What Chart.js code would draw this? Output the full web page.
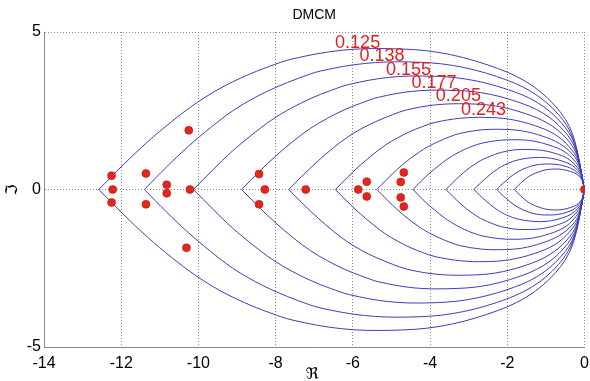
<!DOCTYPE html>
<html>
<head>
<meta charset="utf-8">
<script src="https://cdn.jsdelivr.net/npm/chart.js@4.4.0/dist/chart.umd.min.js"></script>
<style>
  html, body { margin: 0; padding: 0; background: #fff; }
  #wrap { width: 590px; height: 381px; }
</style>
</head>
<body>
<div id="wrap"><canvas id="dmcm-chart" width="590" height="381"></canvas></div>
<script>
const contourRe = [
    [-12.58, -11.95, -11.32, -10.69, -10.06, -9.44, -8.81, -8.18, -7.55, -6.29, -5.03, -3.77, -2.52, -1.51, -0.75, -0.31, 0],
    [-11.40, -10.83, -10.26, -9.69, -9.12, -8.55, -7.98, -7.41, -6.84, -5.70, -4.56, -3.42, -2.28, -1.37, -0.68, -0.29, 0],
    [-10.13, -9.62, -9.12, -8.61, -8.10, -7.60, -7.09, -6.58, -6.08, -5.07, -4.05, -3.04, -2.03, -1.22, -0.61, -0.25, 0],
    [-8.88, -8.44, -7.99, -7.55, -7.10, -6.66, -6.22, -5.77, -5.33, -4.44, -3.55, -2.66, -1.78, -1.07, -0.53, -0.22, 0],
    [-7.66, -7.28, -6.89, -6.51, -6.13, -5.75, -5.36, -4.98, -4.60, -3.83, -3.06, -2.30, -1.53, -0.92, -0.46, -0.19, 0],
    [-6.45, -6.13, -5.81, -5.48, -5.16, -4.84, -4.52, -4.19, -3.87, -3.23, -2.58, -1.94, -1.29, -0.77, -0.39, -0.16, 0],
    [-5.38, -5.11, -4.84, -4.57, -4.30, -4.04, -3.77, -3.50, -3.23, -2.69, -2.15, -1.61, -1.08, -0.65, -0.32, -0.13, 0],
    [-4.44, -4.22, -4.00, -3.77, -3.55, -3.33, -3.11, -2.89, -2.66, -2.22, -1.78, -1.33, -0.89, -0.53, -0.27, -0.11, 0],
    [-3.59, -3.41, -3.23, -3.05, -2.87, -2.69, -2.51, -2.33, -2.15, -1.80, -1.44, -1.08, -0.72, -0.43, -0.22, -0.09, 0],
    [-2.86, -2.72, -2.57, -2.43, -2.29, -2.15, -2.00, -1.86, -1.72, -1.43, -1.14, -0.86, -0.57, -0.34, -0.17, -0.07, 0],
    [-2.27, -2.16, -2.04, -1.93, -1.82, -1.70, -1.59, -1.48, -1.36, -1.14, -0.91, -0.68, -0.45, -0.27, -0.14, -0.06, 0],
    [-1.82, -1.73, -1.64, -1.55, -1.46, -1.37, -1.27, -1.18, -1.09, -0.91, -0.73, -0.55, -0.36, -0.22, -0.11, -0.05, 0]
];
const contourIm = [
    [0, 0.78, 1.51, 2.16, 2.74, 3.21, 3.59, 3.90, 4.15, 4.42, 4.47, 4.35, 3.96, 3.42, 2.64, 1.76, 0],
    [0, 0.71, 1.37, 1.96, 2.49, 2.91, 3.25, 3.53, 3.76, 4.00, 4.05, 3.94, 3.59, 3.10, 2.39, 1.60, 0],
    [0, 0.63, 1.22, 1.74, 2.21, 2.58, 2.89, 3.14, 3.34, 3.56, 3.60, 3.50, 3.19, 2.76, 2.13, 1.42, 0],
    [0, 0.55, 1.07, 1.53, 1.94, 2.26, 2.53, 2.75, 2.93, 3.12, 3.15, 3.07, 2.80, 2.42, 1.86, 1.24, 0],
    [0, 0.47, 0.92, 1.32, 1.67, 1.95, 2.18, 2.37, 2.53, 2.69, 2.72, 2.65, 2.41, 2.08, 1.61, 1.07, 0],
    [0, 0.40, 0.77, 1.11, 1.41, 1.64, 1.84, 2.00, 2.13, 2.26, 2.29, 2.23, 2.03, 1.75, 1.35, 0.90, 0],
    [0, 0.33, 0.65, 0.93, 1.17, 1.37, 1.53, 1.67, 1.78, 1.89, 1.91, 1.86, 1.69, 1.46, 1.13, 0.75, 0],
    [0, 0.28, 0.53, 0.76, 0.97, 1.13, 1.27, 1.38, 1.47, 1.56, 1.58, 1.54, 1.40, 1.21, 0.93, 0.62, 0],
    [0, 0.22, 0.43, 0.62, 0.78, 0.92, 1.02, 1.11, 1.18, 1.26, 1.27, 1.24, 1.13, 0.98, 0.75, 0.50, 0],
    [0, 0.18, 0.34, 0.49, 0.62, 0.73, 0.82, 0.89, 0.94, 1.00, 1.02, 0.99, 0.90, 0.78, 0.60, 0.40, 0],
    [0, 0.14, 0.27, 0.39, 0.49, 0.58, 0.65, 0.70, 0.75, 0.80, 0.81, 0.79, 0.72, 0.62, 0.48, 0.32, 0],
    [0, 0.11, 0.22, 0.31, 0.40, 0.46, 0.52, 0.56, 0.60, 0.64, 0.65, 0.63, 0.57, 0.50, 0.38, 0.25, 0]
];

// poles (red dots)
const poleRe = [-12.25, -12.22, -12.25, -11.36, -11.36, -10.82, -10.82, -10.22, -10.25, -10.31,
                -8.43, -8.28, -8.43, -7.22, -5.86, -5.64, -5.64, -4.68, -4.76, -4.76, -4.68, 0];
const poleIm = [0.44, 0, -0.41, 0.51, -0.47, 0.15, -0.12, 0, 1.88, -1.85,
                0.49, 0, -0.47, 0, 0, 0.25, -0.22, 0.54, 0.24, -0.25, -0.54, 0];

// damping labels and where they sit (data coords, text baseline)
const dampingLabels = ['0.125', '0.138', '0.155', '0.177', '0.205', '0.243'];
const labelRe = [-6.46, -5.83, -5.14, -4.48, -3.85, -3.20];
const labelIm = [4.50, 4.07, 3.65, 3.23, 2.80, 2.38];

const xTicks = [-14, -12, -10, -8, -6, -4, -2, 0];
const yTicks = [-5, 0, 5];

const lineColor = 'rgb(62, 62, 184)';
const datasets = [];

datasets.push({
    label: 'poles',
    data: poleRe.map((re, i) => ({ x: re, y: poleIm[i] })),
    showLine: false,
    pointRadius: 4,
    pointBackgroundColor: '#e2261b',
    pointBorderColor: '#b81a12',
    pointBorderWidth: 0.6
});

contourRe.forEach((row, k) => {
    const upper = row.map((re, i) => ({ x: re, y: contourIm[k][i] }));
    const lower = row.map((re, i) => ({ x: re, y: -contourIm[k][i] }));
    [upper, lower].forEach(pts => {
        datasets.push({
            data: pts,
            showLine: true,
            borderColor: lineColor,
            borderWidth: 1,
            pointRadius: 0,
            tension: 0.35,
            fill: false
        });
    });
});

const textPlugin = {
    id: 'dmcmText',
    afterDatasetsDraw(chart) {
        const { ctx, chartArea, scales } = chart;
        ctx.save();
        ctx.fillStyle = '#e81e1e';
        ctx.font = '18px "Liberation Sans", Arial, sans-serif';
        ctx.textAlign = 'left';
        ctx.textBaseline = 'alphabetic';
        dampingLabels.forEach((txt, i) => {
            ctx.fillText(txt, scales.x.getPixelForValue(labelRe[i]), scales.y.getPixelForValue(labelIm[i]));
        });

        ctx.fillStyle = '#000';
        ctx.textAlign = 'center';
        ctx.textBaseline = 'middle';
        ctx.font = '14px "Liberation Sans", Arial, sans-serif';
        ctx.fillText('DMCM', (chartArea.left + chartArea.right) / 2, 15);

        ctx.font = '16px "DejaVu Serif", "DejaVu Sans", serif';
        ctx.fillText('\u211C', 312, 375);
        ctx.translate(13, 190);
        ctx.rotate(-Math.PI / 2);
        ctx.fillText('\u2111', 0, 0);
        ctx.restore();
    }
};

const tickFont = { family: '"Liberation Sans", Arial, sans-serif', size: 16 };

new Chart(document.getElementById('dmcm-chart'), {
    type: 'scatter',
    data: { datasets: datasets },
    options: {
        responsive: false,
        animation: false,
        layout: { padding: { top: 32, right: 5.5, left: 0, bottom: 0 } },
        plugins: { legend: { display: false }, title: { display: false }, tooltip: { enabled: false } },
        scales: {
            x: {
                type: 'linear',
                min: -14,
                max: 0,
                afterBuildTicks: axis => { axis.ticks = xTicks.map(v => ({ value: v })); },
                afterFit: axis => { axis.height = 34; axis.paddingLeft = 0; axis.paddingRight = 0; },
                ticks: { font: tickFont, color: '#000', padding: 7, maxRotation: 0 },
                grid: { color: '#8a8a8a', lineWidth: 1, drawTicks: false },
                border: { display: true, color: '#8a8a8a', width: 1, dash: [1, 2] }
            },
            y: {
                type: 'linear',
                min: -5,
                max: 5,
                afterBuildTicks: axis => { axis.ticks = yTicks.map(v => ({ value: v })); },
                afterFit: axis => { axis.width = 44; axis.paddingTop = 0; axis.paddingBottom = 0; },
                ticks: { font: tickFont, color: '#000', padding: 3 },
                grid: { color: '#8a8a8a', lineWidth: 1, drawTicks: false },
                border: { display: true, color: '#8a8a8a', width: 1, dash: [1, 2] }
            }
        }
    },
    plugins: [textPlugin]
});
</script>
</body>
</html>
